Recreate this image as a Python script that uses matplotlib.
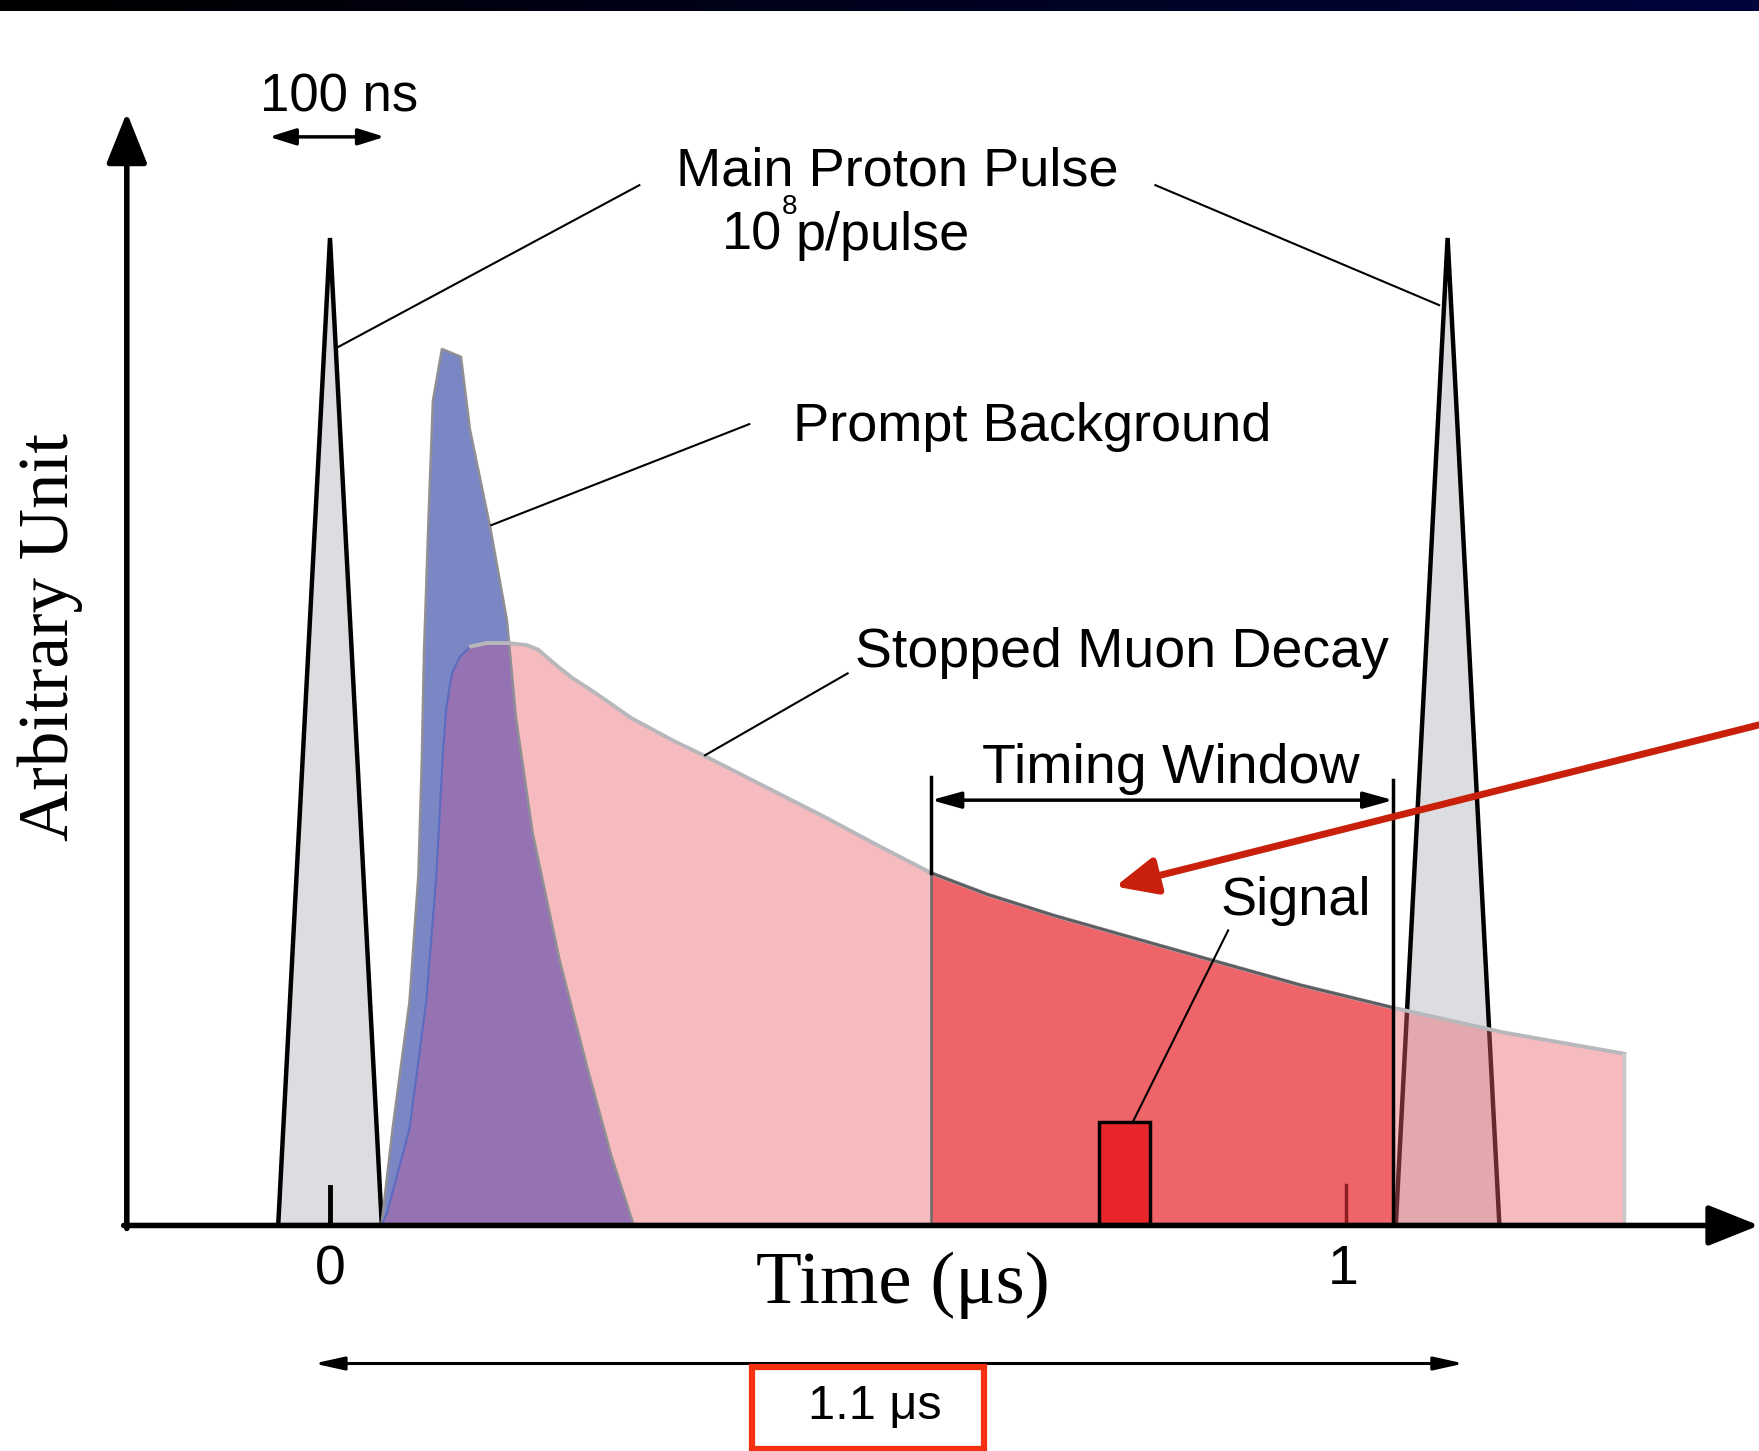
import numpy as np
import matplotlib
matplotlib.use("Agg")
from matplotlib import pyplot as plt
from matplotlib.colors import LinearSegmentedColormap
from matplotlib.patches import Rectangle

# proton pulses (time in us, arbitrary amplitude)
pulse_t = [0.0, 1.1]
pulse_half = 0.051
pulse_h = 1.0

# prompt background outline
pb_t = [0.0506, 0.0616, 0.0782, 0.0870, 0.0903, 0.0925, 0.0969, 0.1013, 0.1102,
        0.1289, 0.1378, 0.1577, 0.1742, 0.1831, 0.1996, 0.2261, 0.2526, 0.2769, 0.2990]
pb_a = [0.0, 0.0977, 0.2262, 0.3546, 0.4682, 0.5796, 0.7137, 0.8353, 0.8876,
        0.8796, 0.8058, 0.7069, 0.6126, 0.5137, 0.3966, 0.2682, 0.1625, 0.0705, 0.0]

# stopped muon decay outline
mu_t = [0.0506, 0.0561, 0.0782, 0.0947, 0.1047, 0.1113, 0.1146, 0.1200, 0.1279,
        0.1389, 0.1544, 0.1765, 0.1941, 0.2050, 0.2217, 0.2383, 0.2604, 0.2968,
        0.3377, 0.3653, 0.4260, 0.4868, 0.5364, 0.5917, 0.6469, 0.7131, 0.7793,
        0.8655, 0.9560, 1.0465, 1.1547, 1.2740, 1.2740]
mu_a = [0.0, 0.0125, 0.0977, 0.2262, 0.3546, 0.4819, 0.5251, 0.5592, 0.5762,
        0.5864, 0.5898, 0.5898, 0.5876, 0.5830, 0.5682, 0.5546, 0.5398, 0.5137,
        0.4910, 0.4773, 0.4455, 0.4137, 0.3864, 0.3569, 0.3353, 0.3137, 0.2944,
        0.2693, 0.2432, 0.2205, 0.1955, 0.1739, 0.0]

win_lo, win_hi = 0.5917, 1.0465
sig_lo, sig_hi, sig_h = 0.757, 0.807, 0.1045

SANS = "Liberation Sans"
SERIF = "Liberation Serif"

fig = plt.figure(figsize=(17.59, 14.51), dpi=100)
ax = fig.add_axes([0, 0, 1, 1])
ax.set_xlim(-0.3248, 1.4065)
ax.set_ylim(-0.2284, 1.241)
ax.axis("off")

# dark band at the top
band = fig.add_axes([0, 1 - 11 / 1451, 1, 11 / 1451])
cm = LinearSegmentedColormap.from_list("band", ["#000000", "#02053c"])
band.imshow(np.linspace(0, 1, 256).reshape(1, -1), cmap=cm, aspect="auto")
band.axis("off")

# proton pulses
for c in pulse_t:
    xs = [c - pulse_half, c, c + pulse_half]
    ys = [0, pulse_h, 0]
    ax.fill(xs, ys, color="#dcdde0", lw=0, zorder=1)
    ax.plot(xs, ys, color="black", lw=3.2, zorder=1.5, solid_joinstyle="miter")

mu_t = np.array(mu_t)
mu_a = np.array(mu_a)

# muon decay (semi transparent so pulse shows through)
ax.fill(mu_t, mu_a, color="#ec636c", alpha=0.43, lw=0, zorder=2)

# prompt background + overlap
blue = ax.fill(pb_t, pb_a, color="#7b86c5", lw=0, zorder=3)[0]
purple = ax.fill(mu_t, mu_a, color="#9573b2", lw=0, zorder=4)[0]
purple.set_clip_path(blue)
ax.plot(pb_t, pb_a, color="#8f8f95", lw=1.8, zorder=6)

# timing window fill
m = (mu_t >= win_lo) & (mu_t <= win_hi)
ax.fill_between(mu_t[m], 0, mu_a[m], color="#ef6469", lw=0, zorder=5)

# muon outlines
ax.plot(mu_t[:10], mu_a[:10], color="#5b6cc0", lw=1.5, zorder=6)
ax.plot(mu_t[9:-1], mu_a[9:-1], color="#b8b8bc", lw=2.8, zorder=6)
ax.plot(mu_t[-2:], mu_a[-2:], color="#c8c8cc", lw=2.5, zorder=6)
ax.plot(mu_t[m], mu_a[m], color="#5f5f63", lw=2.2, zorder=6.5)
ax.plot([win_lo, win_lo], [0, mu_a[m][0]], color="#6a6a6a", lw=1.8, zorder=6)

# timing window markers
ax.plot([win_lo, win_lo], [mu_a[m][0], 0.4546], color="black", lw=2.5, zorder=7)
ax.plot([win_hi, win_hi], [0, 0.451], color="black", lw=2.5, zorder=7)
ax.annotate("", xy=(win_lo, 0.4307), xytext=(win_hi, 0.4307),
            arrowprops=dict(arrowstyle="<|-|>,head_length=0.9,head_width=0.25",
                            color="black", lw=2.5, shrinkA=0, shrinkB=0,
                            mutation_scale=20), zorder=7)
ax.text((win_lo + win_hi) / 2 + 0.008, 0.4626, "Timing Window", fontsize=40,
        family=SANS, ha="center", va="center", zorder=8)

# signal
ax.add_patch(Rectangle((sig_lo, 0), sig_hi - sig_lo, sig_h, facecolor="#e8262b",
                       edgecolor="black", lw=2.5, zorder=7))
ax.plot([0.790, 0.884], [sig_h, 0.2988], color="black", lw=1.5, zorder=7)
ax.text(0.9506, 0.3284, "Signal", fontsize=39, family=SANS, ha="center",
        va="center", zorder=8)

# axes
ax.annotate("", xy=(-0.2, 1.127), xytext=(-0.2, -0.003),
            arrowprops=dict(arrowstyle="-|>,head_length=1.25,head_width=0.5",
                            color="black", lw=4, shrinkA=0, shrinkB=0,
                            mutation_scale=25), zorder=9)
ax.annotate("", xy=(1.4065, 0), xytext=(-0.203, 0),
            arrowprops=dict(arrowstyle="-|>,head_length=1.25,head_width=0.5",
                            color="black", lw=4, shrinkA=0, shrinkB=0,
                            mutation_scale=25), zorder=9)
ax.plot([0, 0], [0, 0.039], color="black", lw=3.5, zorder=8)
ax.plot([1.0003, 1.0003], [0, 0.041], color="#8e1b20", lw=2.5, zorder=8)
ax.text(0.0, -0.0455, "0", fontsize=40, family=SANS, ha="center", va="center")
ax.text(0.997, -0.0455, "1", fontsize=40, family=SANS, ha="center", va="center")
ax.text(0.564, -0.0602, "Time (\u03bcs)", fontsize=54, family=SERIF,
        ha="center", va="center")
ax.text(-0.2752, 0.5955, "Arbitrary Unit", fontsize=51, family=SERIF,
        ha="center", va="center", rotation=90)

# 100 ns scale
ax.annotate("", xy=(-0.0599, 1.1024), xytext=(0.0538, 1.1024),
            arrowprops=dict(arrowstyle="<|-|>,head_length=0.8,head_width=0.25",
                            color="black", lw=2.5, shrinkA=0, shrinkB=0,
                            mutation_scale=20))
ax.text(0.0086, 1.142, "100 ns", fontsize=38, family=SANS, ha="center",
        va="center")

# labels with leader lines
ax.text(0.5585, 1.0672, "Main Proton Pulse", fontsize=39, family=SANS,
        ha="center", va="center")
ax.text(0.4455, 1.0024, "10", fontsize=39, family=SANS, ha="right",
        va="center")
ax.text(0.4580, 1.0024, "p/pulse", fontsize=39, family=SANS, ha="left",
        va="center")
ax.text(0.4518, 1.031, "8", fontsize=20, family=SANS, ha="center", va="center")
ax.plot([0.0064, 0.3045], [0.8887, 1.0535], color="black", lw=1.5, zorder=8)
ax.plot([0.8124, 1.0917], [1.0535, 0.932], color="black", lw=1.5, zorder=8)

ax.text(0.691, 0.809, "Prompt Background", fontsize=39, family=SANS,
        ha="center", va="center")
ax.plot([0.1588, 0.4127], [0.7092, 0.8115], color="black", lw=1.5, zorder=8)

ax.text(0.7795, 0.5796, "Stopped Muon Decay", fontsize=40, family=SANS,
        ha="center", va="center")
ax.plot([0.3692, 0.5095], [0.4762, 0.5591], color="black", lw=1.5, zorder=8)

# period arrow and boxed label
ax.annotate("", xy=(-0.0157, -0.1398), xytext=(1.116, -0.1398),
            arrowprops=dict(arrowstyle="<|-|>,head_length=0.9,head_width=0.2",
                            color="black", lw=2.2, shrinkA=0, shrinkB=0,
                            mutation_scale=20))
ax.add_patch(Rectangle((0.415, -0.2262), 0.6436 - 0.415, 0.083, fill=False,
                       edgecolor="#f5300f", lw=4.5, zorder=9))
ax.text(0.5362, -0.183, "1.1 \u03bcs", fontsize=35, family=SANS, ha="center",
        va="center")

# red pointer arrow
ax.annotate("", xy=(0.7728, 0.3432), xytext=(1.4065, 0.5069),
            arrowprops=dict(arrowstyle="-|>,head_length=1.0,head_width=0.45",
                            color="#c8200a", lw=5, shrinkA=0, shrinkB=0,
                            mutation_scale=25), zorder=10)

fig.savefig("out.png", dpi=100)
